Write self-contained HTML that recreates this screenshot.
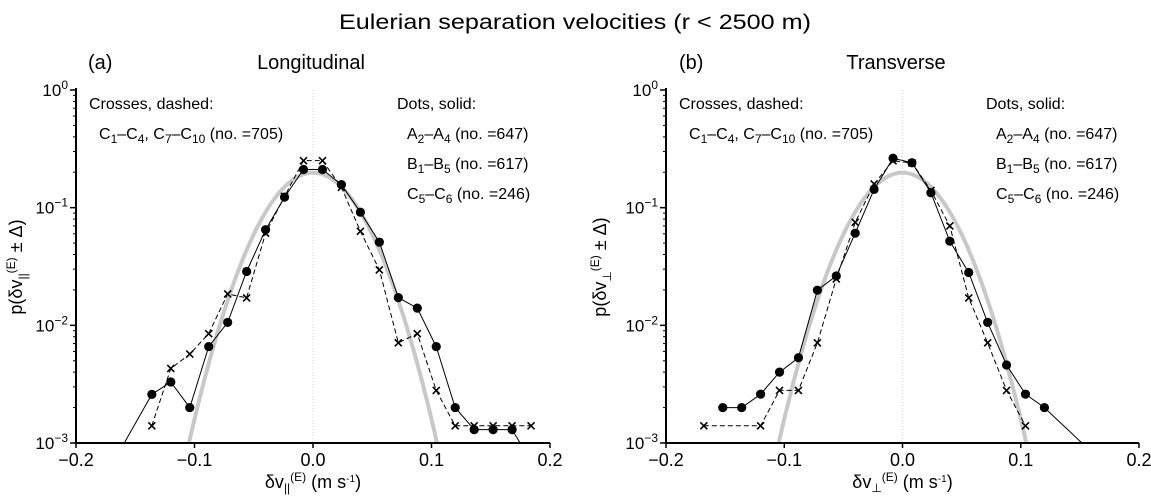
<!DOCTYPE html>
<html><head><meta charset="utf-8"><style>
html,body{margin:0;padding:0;background:#fff;width:1151px;height:501px;overflow:hidden;}
svg{display:block;font-family:"Liberation Sans",sans-serif;}
</style></head><body>
<svg id="chart" width="1151" height="501" viewBox="0 0 1151 501">
<text x="575" y="29" font-size="21" text-anchor="middle" textLength="472" lengthAdjust="spacingAndGlyphs">Eulerian separation velocities (r &lt; 2500 m)</text>
</svg>
<script>
// Shared bin centres (m/s)
const binsA = [-0.168,-0.136,-0.12,-0.104,-0.088,-0.072,-0.056,-0.04,-0.024,-0.008,0.008,0.024,0.04,0.056,0.072,0.088,0.104,0.12,0.136,0.152,0.168,0.184];
const dotsA = [7e-4,2.59e-3,3.3e-3,2.0e-3,6.6e-3,0.0106,0.0287,0.065,0.123,0.211,0.211,0.157,0.0915,0.0509,0.0172,0.014,6.6e-3,2.0e-3,1.3e-3,1.3e-3,1.3e-3,7e-4];
const crossBinsA = [-0.136,-0.12,-0.104,-0.088,-0.072,-0.056,-0.04,-0.024,-0.008,0.008,0.024,0.04,0.056,0.072,0.088,0.104,0.12,0.136,0.152,0.168,0.184];
const crossA = [1.4e-3,4.3e-3,5.7e-3,8.5e-3,0.0185,0.0171,0.0607,0.125,0.251,0.251,0.149,0.063,0.0296,7.1e-3,8.5e-3,2.8e-3,1.4e-3,1.4e-3,1.4e-3,1.4e-3,1.4e-3];
const binsB = [-0.152,-0.136,-0.12,-0.104,-0.088,-0.072,-0.056,-0.04,-0.024,-0.008,0.008,0.024,0.04,0.056,0.072,0.088,0.104,0.12,0.168];
const dotsB = [2.0e-3,2.0e-3,2.6e-3,4.0e-3,5.3e-3,0.0199,0.0263,0.0607,0.143,0.263,0.241,0.134,0.0519,0.0281,0.0106,4.6e-3,2.6e-3,2.0e-3,7e-4];
const crossBinsB = [-0.168,-0.12,-0.104,-0.088,-0.072,-0.056,-0.04,-0.024,-0.008,0.008,0.024,0.04,0.056,0.072,0.088,0.104];
const crossB = [1.4e-3,1.4e-3,2.8e-3,2.8e-3,7.1e-3,0.0248,0.075,0.159,0.25,0.24,0.14,0.07,0.0171,7.1e-3,2.8e-3,1.4e-3];
const xTicks = [-0.2,-0.1,0.0,0.1,0.2];
const xTickLabels = ["\u22120.2","\u22120.1","0.0","0.1","0.2"];
const yTickExp = [0,-1,-2,-3];
const gaussSigma = 0.0322, gaussBin = 0.016;

const NS="http://www.w3.org/2000/svg";
const svg=document.getElementById('chart');
function el(tag,attrs,parent){const e=document.createElementNS(NS,tag);for(const k in attrs)e.setAttribute(k,attrs[k]);(parent||svg).appendChild(e);return e;}

function panel(cfg){
  const g=el('g',{});
  
  
  const L=cfg.left,R=cfg.right,T=90,B=443;
  const xs=v=>L+(v+0.2)/0.4*(R-L);
  const ys=p=>T+(-Math.log10(p))/3*(B-T);
  const clipId='clip'+cfg.id;
  const cp=el('clipPath',{id:clipId},g);el('rect',{x:L,y:T-10,width:R-L+10,height:B-T+10},cp);
  const z=el('line',{x1:xs(0),x2:xs(0),y1:T,y2:B,stroke:'#bbb','stroke-width':0.7,'stroke-dasharray':'1,2'},g);
  
  
  let d='';
  for(let i=0;i<=200;i++){const v=-0.12+0.24*i/200;const p=gaussBin/(gaussSigma*Math.sqrt(2*Math.PI))*Math.exp(-v*v/(2*gaussSigma*gaussSigma));d+=(i?'L':'M')+xs(v).toFixed(1)+','+ys(p).toFixed(1);}
  const gp=el('path',{d:d,fill:'none',stroke:'#c8c8c8','stroke-width':4,'clip-path':'url(#'+clipId+')'},g);
  
  
  let dc=cfg.cbins.map((v,i)=>(i?'L':'M')+xs(v).toFixed(1)+','+ys(cfg.cross[i]).toFixed(1)).join('');
  const cl=el('path',{d:dc,fill:'none',stroke:'#000','stroke-width':1,'stroke-dasharray':'5,3','clip-path':'url(#'+clipId+')'},g);
  
  
  cfg.cbins.forEach((v,i)=>{const x=xs(v),y=ys(cfg.cross[i]);if(y>B)return;
    const m=el('path',{d:`M${x-3.5},${y-3.5}L${x+3.5},${y+3.5}M${x-3.5},${y+3.5}L${x+3.5},${y-3.5}`,stroke:'#000','stroke-width':1.6},g);
    
    });
  let dd=cfg.bins.map((v,i)=>(i?'L':'M')+xs(v).toFixed(1)+','+ys(cfg.dots[i]).toFixed(1)).join('');
  const dl=el('path',{d:dd,fill:'none',stroke:'#000','stroke-width':1,'clip-path':'url(#'+clipId+')'},g);
  
  
  cfg.bins.forEach((v,i)=>{const y=ys(cfg.dots[i]);if(y>B)return;
    const c=el('circle',{cx:xs(v),cy:y,r:4.6,fill:'#000'},g);
    
    });
  const ax=el('path',{d:`M${L},${T-2}L${L},${B}L${R},${B}`,fill:'none',stroke:'#000','stroke-width':2},g);
  
  
  xTicks.forEach((v,i)=>{const x=xs(v);el('line',{x1:x,x2:x,y1:B,y2:B+5,stroke:'#000','stroke-width':1.5},g);
    const t=el('text',{x:x,y:B+23,'font-size':18,'text-anchor':'middle'},g);t.textContent=xTickLabels[i];
    
    });
  yTickExp.forEach(e=>{const y=ys(Math.pow(10,e));el('line',{x1:L-6,x2:L,y1:y,y2:y,stroke:'#000','stroke-width':1.5},g);
    const t=el('text',{x:L-8,y:y+6,'font-size':17,'text-anchor':'end'},g);
    t.innerHTML='10<tspan dy="-7" font-size="12">'+(e===0?'0':'\u2212'+(-e))+'</tspan>';
    
    
    if(e>-3)for(let k=2;k<=9;k++){const yy=ys(k*Math.pow(10,e-1));el('line',{x1:L-3,x2:L,y1:yy,y2:yy,stroke:'#000','stroke-width':1},g);}});
  const pl=el('text',{x:cfg.labelX,y:69,'font-size':20},g);pl.textContent=cfg.letter;
  
  
  const pt=el('text',{x:cfg.titleX,y:69,'font-size':20,'text-anchor':'middle'},g);pt.textContent=cfg.title;
  
  
  const lg=el('g',{'font-size':16},g);
  
  
  const sub=s=>'<tspan dy="4" font-size="12">'+s+'</tspan><tspan dy="-4">';
  const lines=[
    [L+13,109,'Crosses, dashed:'],
    [L+23,139,'C'+sub('1')+'\u2013C'+sub('4')+', C'+sub('7')+'\u2013C'+sub('10')+' (no. =705)</tspan></tspan></tspan></tspan>'],
    [cfg.dotsX,109,'Dots, solid:'],
    [cfg.dotsX+10,139,'A'+sub('2')+'\u2013A'+sub('4')+' (no. =647)</tspan></tspan>'],
    [cfg.dotsX+10,169,'B'+sub('1')+'\u2013B'+sub('5')+' (no. =617)</tspan></tspan>'],
    [cfg.dotsX+10,199,'C'+sub('5')+'\u2013C'+sub('6')+' (no. =246)</tspan></tspan>']];
  lines.forEach(l=>{const t=el('text',{x:l[0],y:l[1]},lg);t.innerHTML=l[2];
    
    });
  const yt=el('text',{transform:`translate(${cfg.yTitleX},267) rotate(-90)`,'font-size':18,'text-anchor':'middle'},g);
  yt.innerHTML='p(\u03b4v<tspan dy="5" font-size="12">'+cfg.sym+'</tspan><tspan dy="-12" font-size="12">(E)</tspan><tspan dy="7"> \u00b1 \u0394)</tspan>';
  
  
  const xt=el('text',{x:xs(0),y:488,'font-size':18,'text-anchor':'middle'},g);
  xt.innerHTML='\u03b4v<tspan dy="4" font-size="12">'+cfg.sym+'</tspan><tspan dy="-11" font-size="12">(E)</tspan><tspan dy="7"> (m s</tspan><tspan dy="-6" font-size="10">-1</tspan><tspan dy="6">)</tspan>';
  
  
}
panel({id:'a',name:'panel-a-longitudinal',left:76,right:550,bins:binsA,dots:dotsA,cbins:crossBinsA,cross:crossA,letter:'(a)',title:'Longitudinal',labelX:88,titleX:311,dotsX:397,yTitleX:22,sym:'||'});
panel({id:'b',name:'panel-b-transverse',left:666,right:1139,bins:binsB,dots:dotsB,cbins:crossBinsB,cross:crossB,letter:'(b)',title:'Transverse',labelX:679,titleX:896,dotsX:986,yTitleX:606,sym:'\u22a5'});
</script>
</body></html>
